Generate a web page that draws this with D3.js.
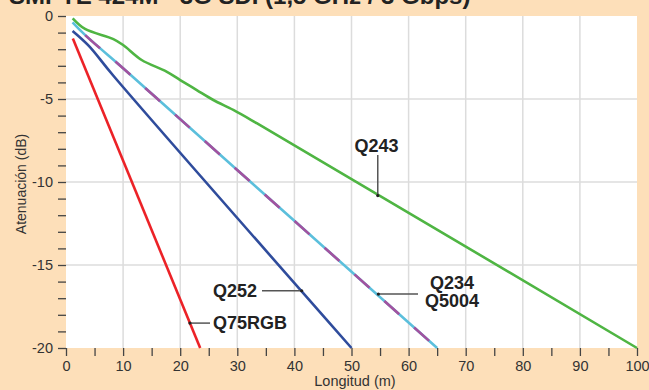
<!DOCTYPE html>
<html><head><meta charset="utf-8">
<script src="https://cdn.jsdelivr.net/npm/d3@7"></script>
<style>html,body{margin:0;padding:0;background:#fddfb9;}svg{display:block;font-family:"Liberation Sans",Arial,sans-serif;}</style>
</head><body>
<svg id="c" width="649" height="390"></svg>
<script>
const title = "SMPTE 424M - 3G SDI (1,5 GHz / 3 Gbps)";
const xLabel = "Longitud (m)";
const yLabel = "Atenuación (dB)";
const xTicks = [0,10,20,30,40,50,60,70,80,90,100];
const yTicks = [0,-5,-10,-15,-20];

// series (x = metres, y = dB)
const q75rgbX = [1.2, 23.5];
const q75rgbY = [-1.35, -20];
const q252X = [1.15, 4, 8.3, 50];
const q252Y = [-0.9, -1.8, -3.6, -20];
const q234X = [1.15, 3.33, 10, 15.9, 65];
const q234Y = [-0.38, -1.14, -3.15, -4.96, -20];
const q243X = [1.17, 3.33, 8.3, 10, 13.25, 17.6, 20, 22.9, 25.8, 29.3, 33.4, 100];
const q243Y = [-0.14, -0.78, -1.39, -1.75, -2.65, -3.35, -3.86, -4.46, -5.06, -5.66, -6.46, -20];

const svg = d3.select("#c");
const x = d3.scaleLinear().domain([0,100]).range([66,637]);
const y = d3.scaleLinear().domain([0,-20]).range([16,348]);
const FONT = "Liberation Sans, Arial, sans-serif";

svg.append("rect").attr("width",649).attr("height",390).attr("fill","#fddfb9");
svg.append("rect").attr("x",x(0)).attr("y",y(0)).attr("width",x(100)-x(0)).attr("height",y(-20)-y(0)).attr("fill","#fff");

// grid
svg.append("g").selectAll("line").data(xTicks.filter(d=>d>0&&d<100)).join("line")
  .attr("x1",d=>x(d)).attr("x2",d=>x(d)).attr("y1",y(0)).attr("y2",y(-20))
  .attr("stroke","#dcdcdc").attr("stroke-width",1.5);
svg.append("g").selectAll("line").data(yTicks.filter(d=>d<0&&d>-20)).join("line")
  .attr("x1",x(0)).attr("x2",x(100)).attr("y1",d=>y(d)).attr("y2",d=>y(d))
  .attr("stroke","#dcdcdc").attr("stroke-width",1.5);

// axes
const xAxis = d3.axisBottom(x).tickValues(d3.range(0,101,5)).tickSize(8)
  .tickFormat(d=> d%10===0 ? d : "");
const gx = svg.append("g").attr("transform",`translate(0,${y(-20)})`).call(xAxis);
gx.select(".domain").remove();
gx.selectAll(".tick line").attr("stroke","#444").attr("stroke-width",1.3);
gx.selectAll(".tick text").attr("fill","#333").attr("font-size",14.5).attr("y",10).attr("dy","0.9em").attr("font-family",FONT);

const yAxis = d3.axisLeft(y).tickValues(d3.range(0,-21,-1)).tickSize(8)
  .tickFormat(d=> d%5===0 ? d : "");
const gy = svg.append("g").attr("transform",`translate(${x(0)},0)`).call(yAxis);
gy.select(".domain").remove();
gy.selectAll(".tick line").attr("stroke","#444").attr("stroke-width",1.3);
gy.selectAll(".tick text").attr("fill","#333").attr("font-size",14.5).attr("x",-13).attr("font-family",FONT);

// lines
const line = d3.line().x(d=>x(d[0])).y(d=>y(d[1])).curve(d3.curveCatmullRom.alpha(0.5));
const zip = (a,b)=>a.map((v,i)=>[v,b[i]]);
const lg = svg.append("g").attr("fill","none").attr("stroke-width",2.6).attr("stroke-linecap","butt");
lg.append("path").attr("d",line(zip(q243X,q243Y))).attr("stroke","#4fb543");
lg.append("path").attr("d",line(zip(q234X,q234Y))).attr("stroke","#5bbfdc");
lg.append("path").attr("d",line(zip(q234X,q234Y))).attr("stroke","#a2529f").attr("stroke-dasharray","20 20").attr("stroke-dashoffset",-18);
lg.append("path").attr("d",line(zip(q252X,q252Y))).attr("stroke","#2f4c9c");
lg.append("path").attr("d",line(zip(q75rgbX,q75rgbY))).attr("stroke","#ec2227");

// annotations
const ann = svg.append("g").attr("font-weight","bold").attr("font-size",18).attr("fill","#222");
function pointer(x1,y1,x2,y2){
  svg.append("line").attr("x1",x1).attr("y1",y1).attr("x2",x2).attr("y2",y2).attr("stroke","#555").attr("stroke-width",1.5);
  svg.append("circle").attr("cx",x2).attr("cy",y2).attr("r",1.6).attr("fill","#222");
}
// Q243
pointer(x(54.6), 155, x(54.6), y(-10.82));
ann.append("text").attr("x",x(54.4)).attr("y",151.5).attr("text-anchor","middle").text("Q243");
// Q252
pointer(262, y(-16.55), x(41.28), y(-16.55));
ann.append("text").attr("x",257).attr("y",296.5).attr("text-anchor","end").text("Q252");
// Q234 / Q5004
pointer(418, y(-16.75), x(54.7), y(-16.75));
ann.append("text").attr("x",452).attr("y",288.5).attr("text-anchor","middle").text("Q234");
ann.append("text").attr("x",452).attr("y",307).attr("text-anchor","middle").text("Q5004");
// Q75RGB
pointer(210, y(-18.5), x(21.7), y(-18.5));
ann.append("text").attr("x",213).attr("y",329).attr("text-anchor","start").text("Q75RGB");

// titles
svg.append("text").attr("x",9).attr("y",3.5).attr("font-size",24).attr("font-weight","bold").attr("fill","#222").text(title);
svg.append("text").attr("x",355).attr("y",385.5).attr("text-anchor","middle").attr("font-size",14.5).attr("fill","#333").text(xLabel);
svg.append("text").attr("transform","translate(26,184) rotate(-90)").attr("text-anchor","middle").attr("font-size",14).attr("fill","#333").text(yLabel);
</script>
</body></html>
